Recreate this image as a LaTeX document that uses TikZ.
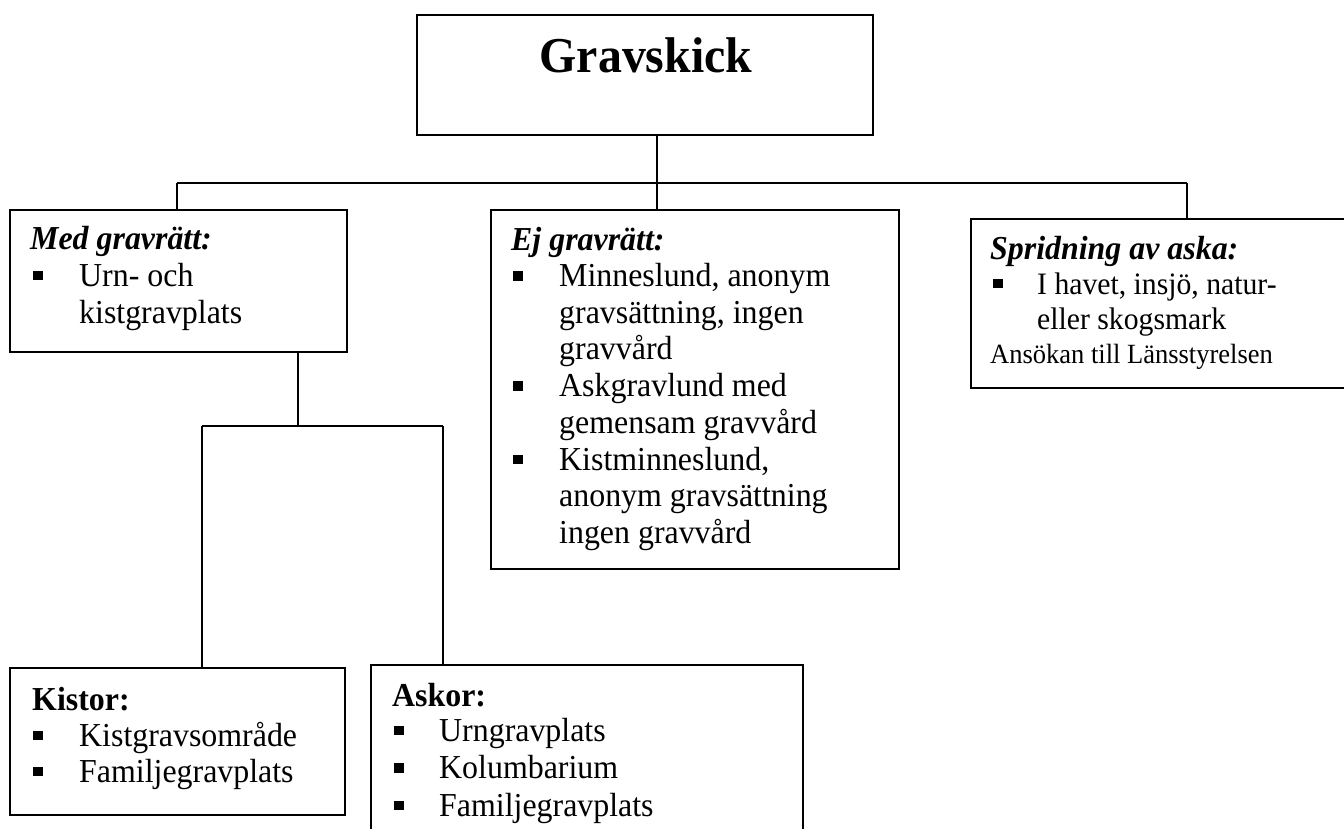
\documentclass[tikz,border=0pt]{standalone}
\usepackage{fontspec}
\usepackage{graphicx}
\setmainfont{Liberation Serif}
\newcommand\mybodyf{\fontsize{31.9}{36.7}\selectfont}
\newcommand\mysprf{\fontsize{29.7}{35}\selectfont}
\newcommand\myhdrf{\fontsize{31.9}{36.7}\selectfont\bfseries\itshape}
\newcommand\myboldf{\fontsize{31.9}{36.7}\selectfont\bfseries}
\newcommand\mytitlef{\fontsize{47.8}{55}\selectfont\bfseries}
\newcommand\mysmallf{\fontsize{26.5}{30}\selectfont}
\newcommand\mybul{\rule[6pt]{9.5pt}{9.5pt}}
\newcommand\tall[1]{\scalebox{1}[1.05]{#1}}
\tikzset{
  box/.style={draw, line width=1.5pt, rectangle, inner sep=0pt, outer sep=0pt, anchor=north west},
  conn/.style={line width=1.5pt},
  txt/.style={anchor=base west, inner sep=0pt, font=\mybodyf},
  hdr/.style={anchor=base west, inner sep=0pt, font=\myhdrf},
  bhdr/.style={anchor=base west, inner sep=0pt, font=\myboldf},
  bul/.style={anchor=base west, inner sep=0pt, font=\mybodyf},
}
\begin{document}
\begin{tikzpicture}[x=1pt,y=-1pt]
\useasboundingbox (0,0) rectangle (1344,828);
\fill[white] (0,0) rectangle (1344,828);
\clip (0,0) rectangle (1344,828);

% boxes
\node[box, minimum width=456pt, minimum height=120pt] (top) at (417,15) {};
\node[box, minimum width=337pt, minimum height=142pt] (med) at (10,210) {};
\node[box, minimum width=408pt, minimum height=359pt] (ej) at (491,210) {};
\node[box, minimum width=400pt, minimum height=169pt] (spr) at (971,219) {};
\node[box, minimum width=335pt, minimum height=147pt] (kis) at (10,668) {};
\node[box, minimum width=432pt, minimum height=200pt] (ask) at (371,665) {};

% title
\node[anchor=base, inner sep=0pt, font=\mytitlef] (title) at (646,72.5) {\tall{Gravskick}};

% Med gravrätt
\node[hdr] (medh) at (30,249) {\tall{Med gravrätt:}};
\node[bul] (medb1) at (33,286) {\mybul};
\node[txt] (med1) at (79,286) {\tall{Urn- och}};
\node[txt] (med2) at (79,323) {\tall{kistgravplats}};

% Ej gravrätt
\node[hdr] (ejh) at (511,250) {\tall{Ej gravrätt:}};
\node[bul] (ejb1) at (513,286.5) {\mybul};
\node[txt] (ej1) at (559,286.5) {\tall{Minneslund, anonym}};
\node[txt] (ej2) at (559,323.2) {\tall{gravsättning, ingen}};
\node[txt] (ej3) at (559,359.9) {\tall{gravvård}};
\node[bul] (ejb2) at (513,396.6) {\mybul};
\node[txt] (ej4) at (559,396.6) {\tall{Askgravlund med}};
\node[txt] (ej5) at (559,433.3) {\tall{gemensam gravvård}};
\node[bul] (ejb3) at (513,470) {\mybul};
\node[txt] (ej6) at (559,470) {\tall{Kistminneslund,}};
\node[txt] (ej7) at (559,506.7) {\tall{anonym gravsättning}};
\node[txt] (ej8) at (559,543.4) {\tall{ingen gravvård}};

% Spridning av aska
\node[hdr] (sprh) at (990,259) {\tall{Spridning av aska:}};
\node[bul] (sprb1) at (993,294) {\mybul};
\node[txt, font=\mysprf] (spr1) at (1037,294) {\tall{I havet, insjö, natur-}};
\node[txt, font=\mysprf] (spr2) at (1037,329) {\tall{eller skogsmark}};
\node[txt, font=\mysmallf] (spr3) at (990,363) {\tall{Ansökan till Länsstyrelsen}};

% Kistor
\node[bhdr] (kish) at (32,710) {\tall{Kistor:}};
\node[bul] (kisb1) at (33,746) {\mybul};
\node[txt] (kis1) at (79,746) {\tall{Kistgravsområde}};
\node[bul] (kisb2) at (33,782) {\mybul};
\node[txt] (kis2) at (79,782) {\tall{Familjegravplats}};

% Askor
\node[bhdr] (askh) at (392,706) {\tall{Askor:}};
\node[bul] (askb1) at (394,741) {\mybul};
\node[txt] (ask1) at (439,741) {\tall{Urngravplats}};
\node[bul] (askb2) at (394,778.5) {\mybul};
\node[txt] (ask2) at (439,778.5) {\tall{Kolumbarium}};
\node[bul] (askb3) at (394,816) {\mybul};
\node[txt] (ask3) at (439,816) {\tall{Familjegravplats}};

% connectors
\coordinate (barL) at (177,183);
\coordinate (barR) at (1187,183);
\coordinate (barM) at (657,183);
\draw[conn] (barL) -- (barR);
\draw[conn] (top.south -| barM) -- (ej.north -| barM);
\draw[conn] (barL) -- (med.north -| barL);
\draw[conn] (barR) -- (spr.north -| barR);

\coordinate (subL) at (202,426);
\coordinate (subR) at (443,426);
\coordinate (subM) at (298,426);
\draw[conn] (med.south -| subM) -- (subM);
\draw[conn] (subL) -- (subR);
\draw[conn] (subL) -- (kis.north -| subL);
\draw[conn] (subR) -- (ask.north -| subR);
\end{tikzpicture}
\end{document}
